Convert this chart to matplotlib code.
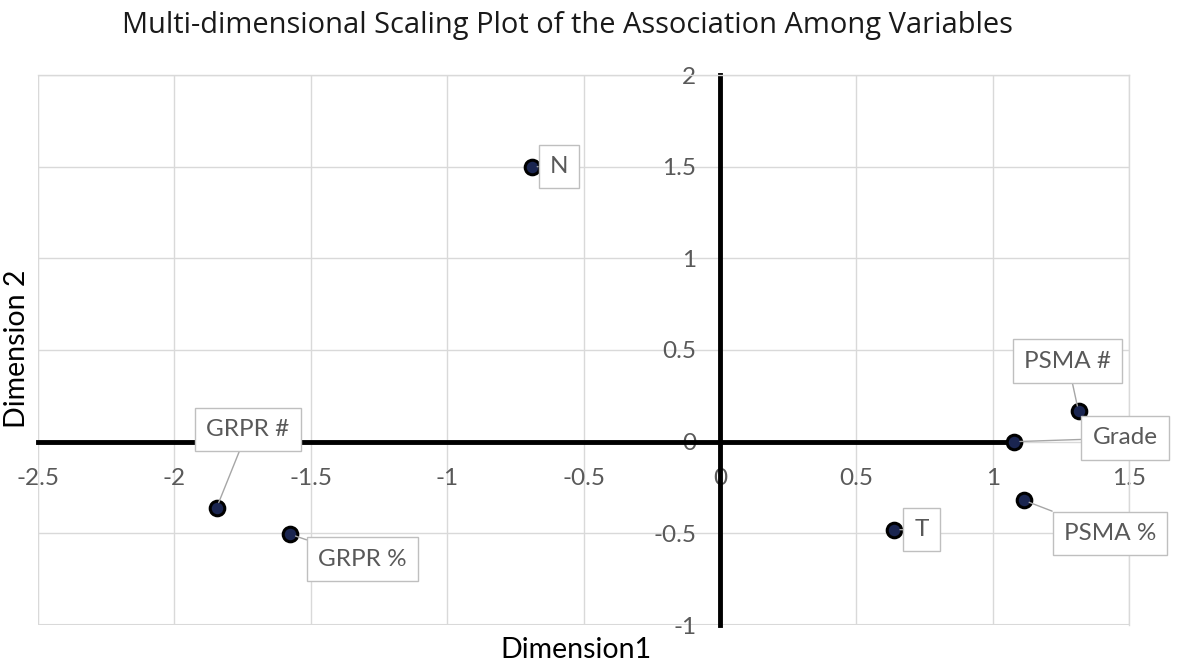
import matplotlib
matplotlib.use("Agg")
import matplotlib.pyplot as plt

# ---- data ----
names = ["N", "GRPR #", "GRPR %", "T", "Grade", "PSMA #", "PSMA %"]
dim1 = [-0.69, -1.845, -1.575, 0.64, 1.08, 1.315, 1.115]
dim2 = [1.50, -0.36, -0.505, -0.48, 0.0, 0.165, -0.32]
x_ticks = [-2.5, -2, -1.5, -1, -0.5, 0, 0.5, 1, 1.5]
y_ticks = [-1, -0.5, 0, 0.5, 1, 1.5, 2]
x_tick_labels = ["-2.5", "-2", "-1.5", "-1", "-0.5", "0", "0.5", "1", "1.5"]
y_tick_labels = ["-1", "-0.5", "0", "0.5", "1", "1.5", "2"]

# label box placements (data coordinates of box centres)
label_pos = {
    "N": (-0.59, 1.50),
    "GRPR #": (-1.73, 0.065),
    "GRPR %": (-1.31, -0.64),
    "T": (0.74, -0.48),
    "Grade": (1.485, 0.02),
    "PSMA #": (1.275, 0.44),
    "PSMA %": (1.43, -0.50),
}

plt.rcParams['font.family'] = ['Lato', 'DejaVu Sans']

fig = plt.figure(figsize=(11.81, 6.69), dpi=100)
ax = fig.add_axes([38 / 1181, 1 - 625 / 669, (1129 - 38) / 1181, (625 - 75) / 669])

ax.set_xlim(x_ticks[0], x_ticks[-1])
ax.set_ylim(y_ticks[0], y_ticks[-1])
ax.set_xticks(x_ticks)
ax.set_xticklabels(x_tick_labels)
ax.set_yticks(y_ticks)
ax.set_yticklabels(y_tick_labels)

grid_c = "#d9d9d9"
ax.grid(True, color=grid_c, linewidth=1.0, zorder=0)
ax.set_axisbelow(True)

for s in ["top", "right"]:
    ax.spines[s].set_color(grid_c)
    ax.spines[s].set_linewidth(1.0)
ax.spines["bottom"].set_position(("data", 0))
ax.spines["left"].set_position(("data", 0))
ax.spines["bottom"].set_linewidth(3.5)
ax.spines["left"].set_linewidth(3.5)
ax.spines["bottom"].set_color("black")
ax.spines["left"].set_color("black")
ax.spines["bottom"].set_bounds(x_ticks[0], dim1[names.index("Grade")])
ax.spines["bottom"].set_zorder(1)
ax.spines["left"].set_zorder(1)

# outer borders on left/bottom
ax.axvline(x_ticks[0], color=grid_c, linewidth=1.5, zorder=0)
ax.axhline(y_ticks[0], color=grid_c, linewidth=1.5, zorder=0)

ax.tick_params(axis="both", length=0, labelsize=17.5, labelcolor="#595959")
ax.tick_params(axis="x", pad=19)
ax.tick_params(axis="y", pad=17)

ax.plot(dim1, dim2, linestyle="none", marker="o", markersize=10.5,
        markerfacecolor="#1a2550", markeredgecolor="black",
        markeredgewidth=2.2, zorder=5)

for n, x, y in zip(names, dim1, dim2):
    lx, ly = label_pos[n]
    ax.annotate(n, xy=(x, y), xytext=(lx, ly), textcoords="data",
                ha="center", va="center", fontsize=17.5, color="#595959",
                bbox=dict(boxstyle="square,pad=0.46", facecolor="white",
                          edgecolor="#bfbfbf", linewidth=1.0),
                arrowprops=dict(arrowstyle="-", color="#a6a6a6", lw=1.0,
                                shrinkA=0, shrinkB=4),
                zorder=6)

fig.text(567.5 / 1181, 1 - 26 / 669,
         "Multi-dimensional Scaling Plot of the Association Among Variables",
         ha="center", va="center", fontsize=20.9, color="#1a1a1a",
         family=["Open Sans", "DejaVu Sans"])
fig.text(576 / 1181, 1 - 650 / 669, "Dimension1", ha="center", va="center",
         fontsize=20.5, color="black")
fig.text(17 / 1181, 1 - 349 / 669, "Dimension 2", ha="center", va="center",
         fontsize=20.5, color="black", rotation=90)

fig.savefig("out.png", dpi=100)
